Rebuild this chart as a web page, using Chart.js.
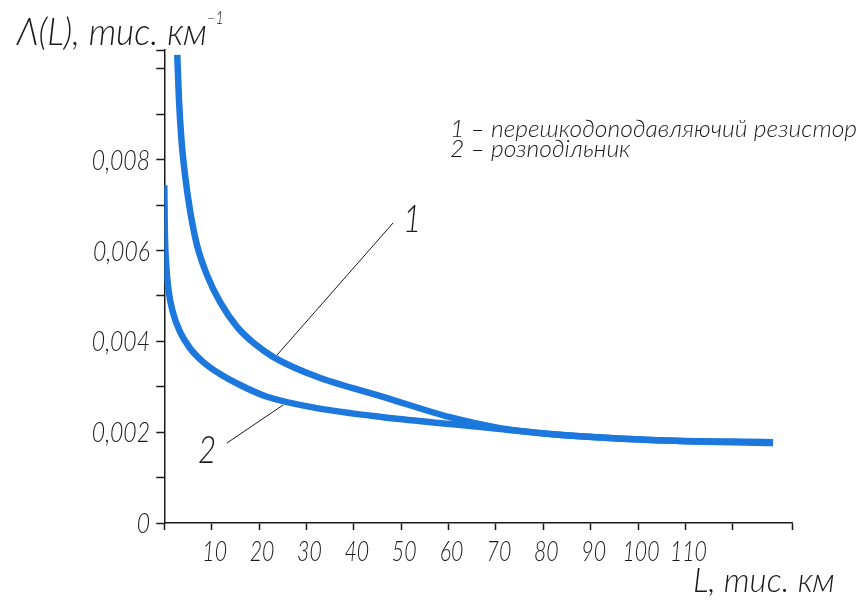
<!DOCTYPE html>
<html>
<head>
<meta charset="utf-8">
<script src="https://cdn.jsdelivr.net/npm/chart.js@4/dist/chart.umd.min.js"></script>
<style>
  html, body { margin: 0; padding: 0; background: #fff; }
</style>
</head>
<body>
<canvas id="chart" width="862" height="603"></canvas>
<script>
// curve 1: interference suppression resistor
const resistorL      = [2.74, 3.10, 3.63, 4.37, 5.43, 6.90, 9.02, 11.76, 15.35, 19.15, 22.95, 32.24, 46.18, 60.32, 70.88, 81.44, 102.6, 128.5];
const resistorLambda = [0.01031, 0.00932, 0.00843, 0.00767, 0.00689, 0.00612, 0.00546, 0.00487, 0.00432, 0.00394, 0.00366, 0.00322, 0.00278, 0.00233, 0.00209, 0.00196, 0.00183, 0.00178];

// curve 2: distributor
const distributorL      = [0, 0.11, 0.36, 0.89, 1.84, 3.32, 5.43, 8.17, 11.76, 15.99, 21.69, 32.24, 46.18, 60.32, 70.88, 81.44, 102.6, 128.5];
const distributorLambda = [0.00744, 0.00645, 0.00575, 0.00513, 0.00463, 0.00421, 0.00385, 0.00355, 0.00328, 0.00304, 0.00278, 0.00253, 0.00233, 0.00218, 0.00207, 0.00196, 0.00183, 0.00176];

// axis ticks that carry a label
const xLabelled = [10, 20, 30, 40, 50, 60, 70, 80, 90, 100, 110];
const yLabelled = [0, 0.002, 0.004, 0.006, 0.008];

const legendLines = ['1 – перешкодоподавляючий резистор', '2 – розподільник'];

// leader lines with their curve numbers, in axis units
const leaders = [
  { label: '1', from: [23.8, 0.00370], to: [48.3, 0.00661], at: [50.4, 0.00641] },
  { label: '2', from: [25.1, 0.00260], to: [13.2, 0.00176], at: [7.1, 0.00132] }
];

const INK = '#1a1a1a';
const BLUE = '#1c78dc';
const FACE = 'Lato, "DejaVu Sans", sans-serif';

const toPoints = (xs, ys) => xs.map((v, i) => ({ x: v, y: ys[i] }));

// thin, squeezed italic lettering in the style of drafting fonts
function letter(ctx, text, x, y, size, opts) {
  opts = opts || {};
  ctx.save();
  ctx.font = 'italic 300 ' + size + 'px ' + FACE;
  let sx = opts.sx || 0.8;
  if (opts.fit) sx = opts.fit / ctx.measureText(text).width;
  ctx.translate(x, y);
  ctx.scale(sx, 1);
  ctx.textAlign = opts.align || 'left';
  ctx.textBaseline = opts.baseline || 'alphabetic';
  ctx.fillText(text, 0, 0);
  ctx.restore();
  return sx;
}

const captions = {
  id: 'captions',
  afterDraw(chart) {
    const { ctx, scales: { x, y } } = chart;
    ctx.save();
    ctx.fillStyle = INK;
    ctx.strokeStyle = INK;

    // tick labels
    yLabelled.forEach(v => {
      const k = Math.round(v * 1000);
      letter(ctx, k === 0 ? '0' : '0,00' + k, 150, y.getPixelForValue(v) + 10, 28, { align: 'right', sx: 0.82 });
    });
    xLabelled.forEach(v => {
      letter(ctx, String(v), x.getPixelForValue(v) + 3, 561, 28, { align: 'center', sx: 0.76 });
    });

    // axis titles
    letter(ctx, 'Λ(L), тис. км', 17, 45, 38, { fit: 190 });
    letter(ctx, '−1', 207, 24, 17, { sx: 0.85 });
    letter(ctx, 'L, тис. км', 693, 592, 34, { fit: 142 });

    // legend text
    const sx = letter(ctx, legendLines[0], 450, 137, 23, { fit: 407 });
    letter(ctx, legendLines[1], 450, 157, 23, { sx: sx });

    // leaders and curve numbers
    ctx.lineWidth = 1;
    leaders.forEach(ld => {
      ctx.beginPath();
      ctx.moveTo(x.getPixelForValue(ld.from[0]), y.getPixelForValue(ld.from[1]));
      ctx.lineTo(x.getPixelForValue(ld.to[0]), y.getPixelForValue(ld.to[1]));
      ctx.stroke();
      letter(ctx, ld.label, x.getPixelForValue(ld.at[0]), y.getPixelForValue(ld.at[1]), 37, { sx: 0.85 });
    });
    ctx.restore();
  }
};

const lineStyle = {
  borderColor: BLUE,
  borderWidth: 6.5,
  pointRadius: 0,
  fill: false,
  cubicInterpolationMode: 'monotone',
  borderCapStyle: 'butt'
};

new Chart(document.getElementById('chart'), {
  type: 'line',
  data: {
    datasets: [
      Object.assign({ label: '1', data: toPoints(resistorL, resistorLambda) }, lineStyle),
      Object.assign({ label: '2', data: toPoints(distributorL, distributorLambda) }, lineStyle)
    ]
  },
  options: {
    responsive: false,
    animation: false,
    layout: { padding: { top: 50, right: 70, bottom: 0, left: 0 } },
    plugins: { legend: { display: false }, tooltip: { enabled: false } },
    scales: {
      x: {
        type: 'linear',
        min: 0,
        max: 132.5,
        afterFit: s => { s.height = 80; },
        border: { color: INK, width: 1.5 },
        grid: { drawOnChartArea: false, drawTicks: true, tickLength: 7, tickColor: INK, tickWidth: 1.5 },
        ticks: { stepSize: 10, autoSkip: false, display: false }
      },
      y: {
        type: 'linear',
        min: 0,
        max: 0.010418,
        afterFit: s => { s.width = 164.3; },
        border: { color: INK, width: 1.5 },
        grid: { drawOnChartArea: false, drawTicks: true, tickLength: 8, tickColor: INK, tickWidth: 1.5 },
        ticks: { stepSize: 0.001, autoSkip: false, display: false }
      }
    }
  },
  plugins: [captions]
});
</script>
</body>
</html>
